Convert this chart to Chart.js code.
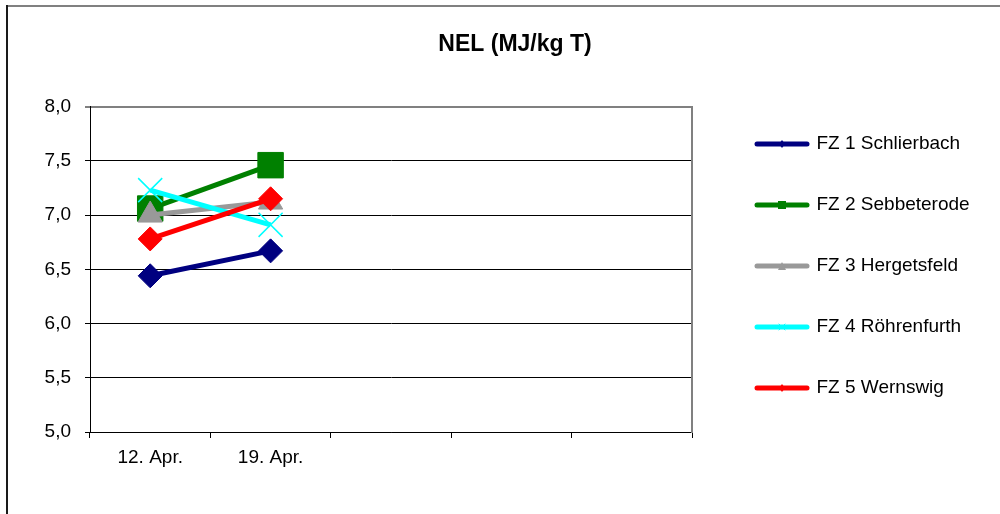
<!DOCTYPE html>
<html>
<head>
<meta charset="utf-8">
<script src="https://cdn.jsdelivr.net/npm/chart.js@4"></script>
<style>
  html, body { margin: 0; padding: 0; background: #fff; }
  canvas { display: block; }
</style>
</head>
<body>
<canvas id="chartNEL" width="1000" height="514"></canvas>
<script>
// Daten
var categories = ['12. Apr.', '19. Apr.', '', '', ''];
var yTicks = [5.0, 5.5, 6.0, 6.5, 7.0, 7.5, 8.0];
var seriesNames = ['FZ 1 Schlierbach', 'FZ 2 Sebbeterode', 'FZ 3 Hergetsfeld', 'FZ 4 Röhrenfurth', 'FZ 5 Wernswig'];
var fz1 = [6.44, 6.67, null, null, null];
var fz2 = [7.06, 7.46, null, null, null];
var fz3 = [7.00, 7.12, null, null, null];
var fz4 = [7.23, 6.91, null, null, null];
var fz5 = [6.78, 7.15, null, null, null];

var colors = ['#000080', '#008000', '#999999', '#00ffff', '#ff0000'];
var styles = ['rectRot', 'rect', 'triangle', 'crossRot', 'rectRot'];
var radii = [12, 18, 14, 17, 12];
var fontFamily = '"Liberation Sans", Arial, sans-serif';

// kleine Legenden-Symbole (Linie mit Marker)
function makeIcon(color, style) {
    var c = document.createElement('canvas');
    c.width = 56; c.height = 12;
    var ctx = c.getContext('2d');
    ctx.strokeStyle = color;
    ctx.fillStyle = color;
    ctx.lineWidth = 5;
    ctx.lineCap = 'round';
    ctx.beginPath();
    ctx.moveTo(3, 6); ctx.lineTo(53, 6);
    ctx.stroke();
    ctx.beginPath();
    if (style == 'rect') {
        ctx.fillRect(24, 2, 8, 8);
    } else if (style == 'triangle') {
        ctx.moveTo(28, 2); ctx.lineTo(32, 10); ctx.lineTo(24, 10); ctx.closePath(); ctx.fill();
    } else if (style == 'crossRot') {
        ctx.lineWidth = 1;
        ctx.moveTo(25, 3); ctx.lineTo(31, 9); ctx.moveTo(31, 3); ctx.lineTo(25, 9); ctx.stroke();
    } else {
        ctx.moveTo(28, 2); ctx.lineTo(31, 6); ctx.lineTo(28, 10); ctx.lineTo(25, 6); ctx.closePath(); ctx.fill();
    }
    return c;
}
var legendIcons = colors.map((c, i) => makeIcon(c, styles[i]));

var allData = [fz1, fz2, fz3, fz4, fz5];
var datasets = allData.map((d, i) => ({
    label: seriesNames[i],
    data: d,
    borderColor: colors[i],
    backgroundColor: colors[i],
    borderWidth: 5,
    pointStyle: styles[i],
    pointRadius: radii[i],
    pointHoverRadius: radii[i],
    pointBorderWidth: styles[i] == 'crossRot' ? 1.5 : 1,
    pointBackgroundColor: colors[i],
    pointBorderColor: colors[i],
    tension: 0,
    order: 5 - i
}));

// Rahmen um das ganze Diagramm
var frame = {
    id: 'frame',
    beforeDraw(chart) {
        var ctx = chart.ctx;
        ctx.save();
        ctx.fillStyle = '#808080';
        ctx.fillRect(7, 5, 993, 2);
        ctx.fillStyle = '#1a1a1a';
        ctx.fillRect(6, 5, 2, 509);
        ctx.restore();
    }
};

var legendWidth = {
    id: 'legendWidth',
    beforeInit(chart) {
        var fit = chart.legend.fit;
        chart.legend.fit = function () {
            fit.call(this);
            this.width = 285;
        };
    }
};

var mainCanvas = document.getElementById('chartNEL');
var chart = new Chart(mainCanvas, {
    type: 'line',
    data: {
        labels: categories,
        datasets: datasets
    },
    options: {
        responsive: false,
        devicePixelRatio: 1,
        animation: false,
        spanGaps: false,
        layout: {
            padding: { left: 30, top: 18, right: 0, bottom: 0 }
        },
        scales: {
            x: {
                offset: true,
                afterFit: (scale) => { scale.height = 82; },
                grid: {
                    offset: true,
                    drawOnChartArea: false,
                    drawTicks: true,
                    tickLength: 6,
                    color: '#000'
                },
                border: { color: '#000', width: 1 },
                ticks: {
                    color: '#000',
                    padding: 8,
                    maxRotation: 0,
                    autoSkip: false,
                    font: { family: fontFamily, size: 19 }
                }
            },
            y: {
                min: 5,
                max: 8,
                afterFit: (scale) => { scale.width = 60; },
                afterBuildTicks: (scale) => { scale.ticks = yTicks.map(v => ({ value: v })); },
                grid: {
                    color: (c) => c.tick && c.tick.value == 8 ? '#808080' : '#000',
                    lineWidth: (c) => c.tick && c.tick.value == 8 ? 2 : 1,
                    tickColor: '#000',
                    tickWidth: 1,
                    tickLength: 5
                },
                border: { color: '#000', width: 1 },
                ticks: {
                    color: '#000',
                    padding: 14,
                    font: { family: fontFamily, size: 19 },
                    callback: (v) => v.toFixed(1).replace('.', ',')
                }
            },
            y2: {
                type: 'linear',
                position: 'right',
                afterFit: (scale) => { scale.width = 23; },
                grid: { drawOnChartArea: false, drawTicks: false, tickLength: 0 },
                border: { color: '#808080', width: 2 },
                ticks: { display: false }
            }
        },
        plugins: {
            title: {
                display: true,
                text: 'NEL (MJ/kg T)',
                color: '#000',
                font: { family: fontFamily, size: 23, weight: 'bold' },
                padding: { top: 13, bottom: 48 }
            },
            legend: {
                position: 'right',
                reverse: true,
                labels: {
                    usePointStyle: true,
                    pointStyleWidth: 50,
                    padding: 42,
                    color: '#000',
                    textAlign: 'left',
                    font: { family: fontFamily, size: 19 },
                    generateLabels: (ch) => Chart.defaults.plugins.legend.labels.generateLabels(ch).map(l => {
                        l.pointStyle = legendIcons[l.datasetIndex];
                        return l;
                    })
                }
            },
            tooltip: { enabled: false }
        }
    },
    plugins: [frame, legendWidth]
});
</script>
</body>
</html>
